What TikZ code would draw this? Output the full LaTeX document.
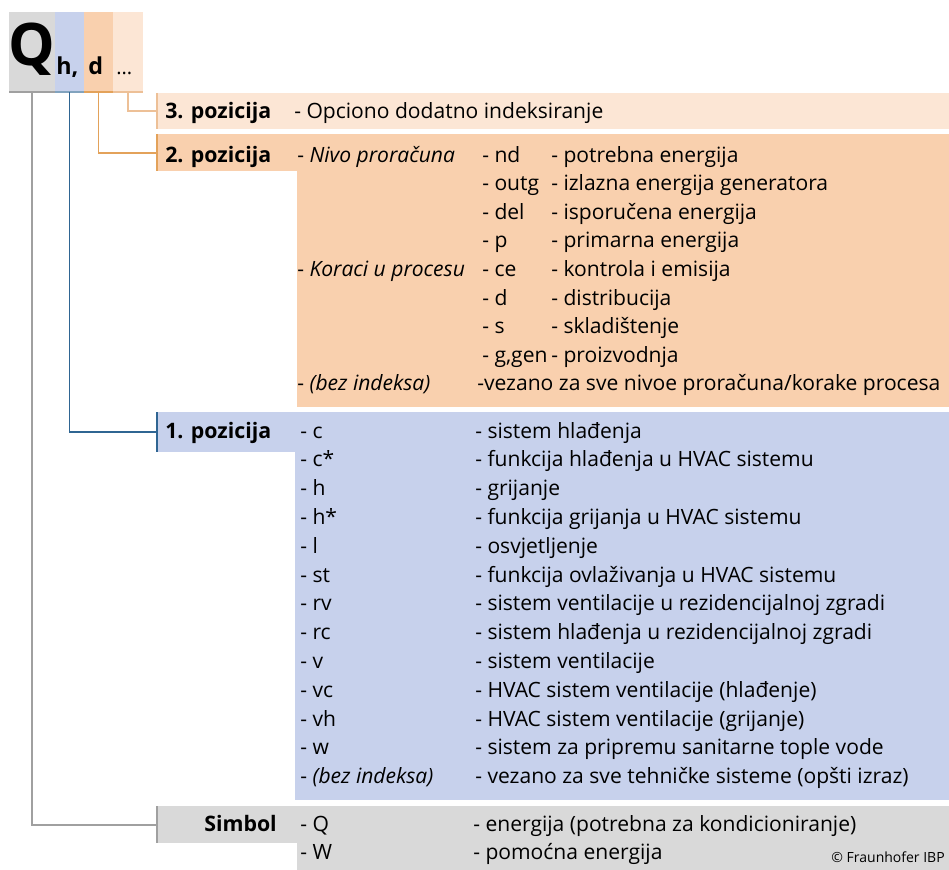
\documentclass[tikz,border=0pt]{standalone}
\usepackage{fontspec}
\setmainfont{Open Sans}

\definecolor{symfill}{HTML}{D9D9D9}
\definecolor{symline}{HTML}{A0A0A0}
\definecolor{posafill}{HTML}{C7D1EC}
\definecolor{posaline}{HTML}{2F6592}
\definecolor{posbfill}{HTML}{F9D0AE}
\definecolor{posbline}{HTML}{E3A25A}
\definecolor{poscfill}{HTML}{FCE6D5}
\definecolor{poscline}{HTML}{EDC097}

\tikzset{
  hbox/.style={anchor=north west, minimum height=60pt, inner sep=0pt, outer sep=0pt},
  tab/.style={anchor=north west, inner sep=0pt, outer sep=0pt},
  conn/.style={line width=1.3pt},
  edge/.style={line width=1.6pt},
  txt/.style={anchor=base west, inner sep=0pt, font=\fontsize{15.8}{18}\selectfont},
  lbl/.style={anchor=base west, inner sep=0pt, font=\fontsize{16}{19}\selectfont\bfseries},
}

\begin{document}
\begin{tikzpicture}[x=0.75pt,y=0.75pt,yscale=-1,xscale=1]
\useasboundingbox (0,0) rectangle (949,870);

%Shape: Header boxes
\node[hbox, fill=symfill, minimum width=34.5pt] (qsym) at (9,12) {};
\node[hbox, fill=posafill, minimum width=21.75pt] (qh) at (55,12) {};
\node[hbox, fill=posbfill, minimum width=21.75pt] (qd) at (84,12) {};
\node[hbox, fill=poscfill, minimum width=22.5pt] (qdots) at (113,12) {};
\draw[conn, symline] (qsym.south west) -- (qsym.south east);
\draw[conn, posaline!60] (qh.south west) -- (qh.south east);
\draw[conn, posbline] (qd.south west) -- (qd.south east);
\draw[conn, poscline] (qdots.south west) -- (qdots.south east);

% Text Node
\node[anchor=base, inner sep=0pt, font=\fontsize{44}{44}\selectfont\bfseries] (qlet) at (32,66) {Q};
\node[anchor=base west, inner sep=0pt, font=\fontsize{17.5}{20}\selectfont\bfseries] (hlet) at (56,75) {h,};
\node[anchor=base west, inner sep=0pt, font=\fontsize{17.5}{20}\selectfont\bfseries] (dlet) at (88,75) {d};
\node[anchor=base west, inner sep=0pt, font=\fontsize{15}{18}\selectfont] (dots) at (116,75) {...};

%Shape: 3. pozicija band
\node[tab, fill=poscfill, minimum width=594pt, minimum height=27pt] (pos3) at (157,93) {};
%Shape: 2. pozicija band
\node[tab, fill=posbfill, minimum width=105pt, minimum height=28pt] (pos2) at (157,134) {};
\fill[posbfill] (297,134) rectangle (949,407);
%Shape: 1. pozicija band
\node[tab, fill=posafill, minimum width=103.5pt, minimum height=30pt] (pos1) at (157,412) {};
\fill[posafill] (295,412) rectangle (949,800);
%Shape: Simbol band
\node[tab, fill=symfill, minimum width=105pt, minimum height=28pt] (simb) at (157,806) {};
\fill[symfill] (297,806) rectangle (949,870);

%Straight Lines: connectors
\draw[conn, poscline] (qdots.south) |- (pos3.west);
\draw[conn, posbline] (qd.south) |- (pos2.west);
\draw[conn, posaline] (qh.south) |- (pos1.west);
\draw[conn, symline] (qsym.south) |- (simb.west);
\draw[edge, poscline] (pos3.north west) -- (pos3.south west);
\draw[edge, posbline] (pos2.north west) -- (pos2.south west);
\draw[edge, posaline] (pos1.north west) -- (pos1.south west);
\draw[edge, symline] (simb.north west) -- (simb.south west);

% Text Node: 3. pozicija
\node[lbl] (p3lbl) at (165,119) {3. pozicija};
\node[txt] (p3txt) at (294,119) {- Opciono dodatno indeksiranje};

% Text Node: 2. pozicija
\node[lbl] (p2lbl) at (165,162) {2. pozicija};
\node[txt] (p2niv) at (297,162) {- \textit{Nivo proračuna}};
\node[txt] (p2kor) at (297,276.4) {- \textit{Koraci u procesu}};
\node[txt] (p2bez) at (297,390.8) {- \textit{(bez indeksa)}};
\foreach \i/\ind/\dsc in {0/nd/potrebna energija, 1/outg/izlazna energija generatora,
    2/del/isporučena energija, 3/p/primarna energija, 4/ce/kontrola i emisija,
    5/d/distribucija, 6/s/skladištenje, 7/{g,gen}/proizvodnja}
{
  \node[txt] (nind\i) at (482,162+28.6*\i) {- \ind};
  \node[txt] (ndsc\i) at (551,162+28.6*\i) {- \dsc};
}
\node[txt] (ndsc8) at (477,390.8) {-vezano za sve nivoe proračuna/korake procesa};

% Text Node: 1. pozicija
\node[lbl] (p1lbl) at (165,438) {1. pozicija};
\foreach \i/\ind/\dsc in {0/c/sistem hlađenja, 1/c*/funkcija hlađenja u HVAC sistemu,
    2/h/grijanje, 3/h*/funkcija grijanja u HVAC sistemu, 4/l/osvjetljenje,
    5/st/funkcija ovlaživanja u HVAC sistemu, 6/rv/sistem ventilacije u rezidencijalnoj zgradi,
    7/rc/sistem hlađenja u rezidencijalnoj zgradi, 8/v/sistem ventilacije,
    9/vc/HVAC sistem ventilacije (hlađenje), 10/vh/HVAC sistem ventilacije (grijanje),
    11/w/sistem za pripremu sanitarne tople vode,
    12/\textit{(bez indeksa)}/vezano za sve tehničke sisteme (opšti izraz)}
{
  \node[txt] (bind\i) at (300,438+28.8*\i) {- \ind};
  \node[txt] (bdsc\i) at (475,438+28.8*\i) {- \dsc};
}

% Text Node: Simbol
\node[anchor=base east, inner sep=0pt, font=\fontsize{16}{19}\selectfont\bfseries] (simlbl) at (277,831) {Simbol};
\node[txt] (sind0) at (300,831) {- Q};
\node[txt] (sdsc0) at (473,831) {- energija (potrebna za kondicioniranje)};
\node[txt] (sind1) at (300,859) {- W};
\node[txt] (sdsc1) at (473,859) {- pomoćna energija};
\node[anchor=base east, inner sep=0pt, font=\fontsize{10.5}{12}\selectfont] (copy) at (945,862) {© Fraunhofer IBP};

\end{tikzpicture}
\end{document}
